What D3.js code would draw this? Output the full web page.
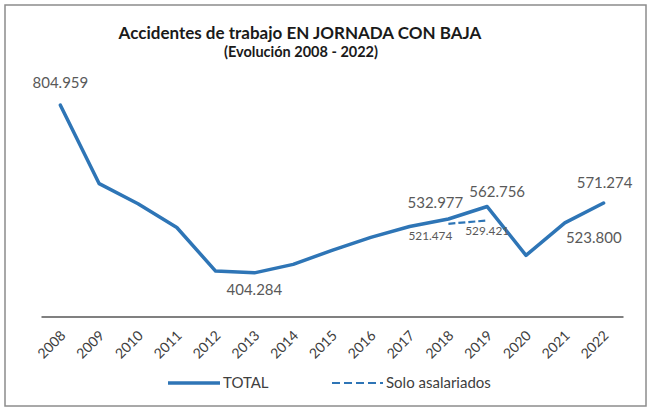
<!DOCTYPE html>
<html><head><meta charset="utf-8">
<script src="https://cdn.jsdelivr.net/npm/d3@7"></script>
<style>body{margin:0;background:#fff;} svg{display:block;}</style>
</head><body>
<svg id="c" width="650" height="411"></svg>
<script>
const years = ["2008","2009","2010","2011","2012","2013","2014","2015","2016","2017","2018","2019","2020","2021","2022"];
const total = [804959,617440,569523,512584,408537,404284,424625,458023,489065,515082,532977,562756,446000,523800,571274];
const asalYears = ["2018","2019"];
const asalariados = [521474,529421];
const labelTotal = ["804.959","","","","","404.284","","","","","532.977","562.756","","523.800","571.274"];
const labelAsal = ["521.474","529.421"];
const title = "Accidentes de trabajo EN JORNADA CON BAJA";
const subtitle = "(Evolución 2008 - 2022)";
const legendNames = ["TOTAL","Solo asalariados"];

const svg = d3.select("#c");
const font = "Lato, 'Open Sans', sans-serif";
const blue = "#2E75B6";
const gray = "#595959";

svg.append("rect").attr("x",5).attr("y",5).attr("width",641).attr("height",401)
  .attr("fill","#fff").attr("stroke","#8c8c8c").attr("stroke-width",1.5);

svg.append("text").attr("x",300).attr("y",39).attr("text-anchor","middle")
  .attr("font-family",font).attr("font-weight","bold").attr("font-size",17).attr("fill","#1a1a1a").text(title);
svg.append("text").attr("x",301).attr("y",57).attr("text-anchor","middle")
  .attr("font-family",font).attr("font-weight","bold").attr("font-size",14.5).attr("fill","#1a1a1a").text(subtitle);

const x = d3.scaleBand().domain(years).range([41,623]);
const cx = d => x(d) + x.bandwidth()/2;
const y = d3.scaleLinear().domain([300000,900000]).range([316.5,65.4]);

const xAxis = svg.append("g").attr("transform","translate(0,316.5)")
  .call(d3.axisBottom(x).tickSize(0).tickPadding(0));
xAxis.select(".domain").attr("stroke","#808080").attr("stroke-width",2);
xAxis.selectAll("text")
  .attr("font-family",font).attr("font-size",14).attr("fill","#404040")
  .attr("text-anchor","end").attr("dy",0)
  .attr("transform","translate(6,20) rotate(-45)");

const line = d3.line().x((d,i)=>cx(years[i])).y(d=>y(d));
svg.append("path").datum(total).attr("d",line).attr("fill","none")
  .attr("stroke",blue).attr("stroke-width",3.5).attr("stroke-linejoin","round").attr("stroke-linecap","round");

const line2 = d3.line().x((d,i)=>cx(asalYears[i])).y(d=>y(d));
svg.append("path").datum(asalariados).attr("d",line2).attr("fill","none")
  .attr("stroke",blue).attr("stroke-width",2.2).attr("stroke-dasharray","7,3");

// labels for total: [dx, baseline dy]
const offs = {0:[0,-17],5:[0,22],10:[-13,-11],11:[10,-10],13:[29,20],14:[1,-15]};
labelTotal.forEach((t,i)=>{
  if(!t) return;
  const o = offs[i];
  svg.append("text").attr("x",cx(years[i])+o[0]).attr("y",y(total[i])+o[1])
    .attr("text-anchor","middle").attr("font-family",font).attr("font-size",15)
    .attr("fill",gray).text(t);
});
const offs2 = [[-18,16],[0,14.5]];
labelAsal.forEach((t,i)=>{
  svg.append("text").attr("x",cx(asalYears[i])+offs2[i][0]).attr("y",y(asalariados[i])+offs2[i][1])
    .attr("text-anchor","middle").attr("font-family",font).attr("font-size",11.8)
    .attr("fill",gray).text(t);
});

// legend
const lg = svg.append("g");
lg.append("line").attr("x1",168).attr("x2",220).attr("y1",383).attr("y2",383)
  .attr("stroke",blue).attr("stroke-width",3.5);
lg.append("text").attr("x",223).attr("y",388).attr("font-family",font).attr("font-size",15)
  .attr("fill","#404040").text(legendNames[0]);
lg.append("line").attr("x1",332).attr("x2",383).attr("y1",383).attr("y2",383)
  .attr("stroke",blue).attr("stroke-width",2.2).attr("stroke-dasharray","8,4");
lg.append("text").attr("x",386).attr("y",388).attr("font-family",font).attr("font-size",15)
  .attr("fill","#404040").text(legendNames[1]);
</script>
</body></html>
